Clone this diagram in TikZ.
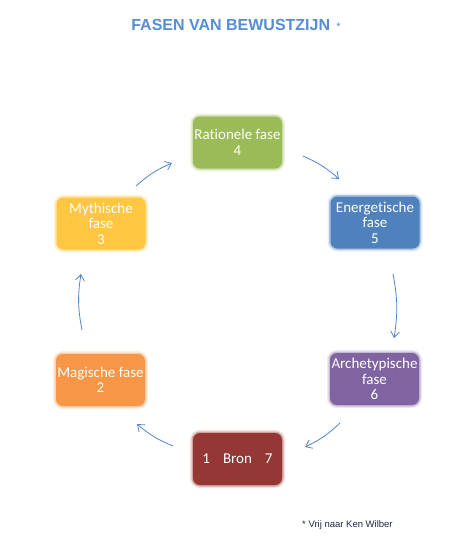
\documentclass[tikz,border=0pt]{standalone}
\usepackage{fontspec}
\setmainfont{Carlito}[Ligatures=NoCommon]
\newfontfamily\arialf{Liberation Sans}
\usetikzlibrary{arrows.meta}
\definecolor{cgreen}{HTML}{9BBB59}
\definecolor{cyellow}{HTML}{FFC641}
\definecolor{corange}{HTML}{F79646}
\definecolor{cblue}{HTML}{4F81BD}
\definecolor{cpurple}{HTML}{8064A2}
\definecolor{cred}{HTML}{953735}
\definecolor{titlec}{HTML}{558ED5}
\definecolor{arrowc}{HTML}{5585C4}
\definecolor{footc}{HTML}{1F2A44}
\tikzset{
  phase/.style={rounded corners=7pt, fill=#1, minimum width=89pt, minimum height=52pt,
    text=white, align=center, font=\fontsize{15}{15.5}\selectfont, inner sep=0pt,
    preaction={draw=#1, draw opacity=0.15, line width=6pt},
    preaction={draw=#1, draw opacity=0.35, line width=3pt}},
  cyc/.style={draw=arrowc, line width=0.8pt, -{Straight Barb[length=6pt,width=9pt]}},
}
\begin{document}
\begin{tikzpicture}[x=1pt,y=-1pt]
\useasboundingbox[fill=white] (0,0) rectangle (463,558);
\node[font=\arialf\bfseries\fontsize{16}{18}\selectfont, text=titlec] (title) at (236,25)
  {FASEN VAN BEWUSTZIJN {\mdseries\fontsize{11}{12}\selectfont\,*}};
\node[phase=cgreen] (rat) at (237.5,142.5) {Rationele fase\\4};
\node[phase=cblue] (ene) at (375,222.5) {Energetische\\fase\\5};
\node[phase=cpurple] (arc) at (374.5,379) {Archetypische\\fase\\6};
\node[phase=cred] (bron) at (237.5,459) {1\hspace{13pt}Bron\hspace{13pt}7};
\node[phase=corange] (mag) at (100.5,380) {Magische fase\\2};
\node[phase=cyellow] (myt) at (101,223.5) {Mythische\\fase\\3};
\coordinate (a1s) at (303,156);
\coordinate (a1e) at (339,179);
\coordinate (a2s) at (393,274);
\coordinate (a2e) at (394,338);
\coordinate (a3s) at (340,423);
\coordinate (a3e) at (305,447);
\coordinate (a4s) at (173,446);
\coordinate (a4e) at (137,424);
\coordinate (a5s) at (82,330);
\coordinate (a5e) at (81,274);
\coordinate (a6s) at (136,186);
\coordinate (a6e) at (172,163);
\draw[cyc] (a1s) to[bend left=9] (a1e);
\draw[cyc] (a2s) to[bend left=10] (a2e);
\draw[cyc] (a3s) to[bend left=9] (a3e);
\draw[cyc] (a4s) to[bend left=9] (a4e);
\draw[cyc] (a5s) to[bend left=10] (a5e);
\draw[cyc] (a6s) to[bend left=9] (a6e);
\node[anchor=west, font=\arialf\fontsize{9.5}{12}\selectfont, text=footc, inner sep=0pt] (note) at (302,525) {* Vrij naar Ken Wilber};
\end{tikzpicture}
\end{document}
